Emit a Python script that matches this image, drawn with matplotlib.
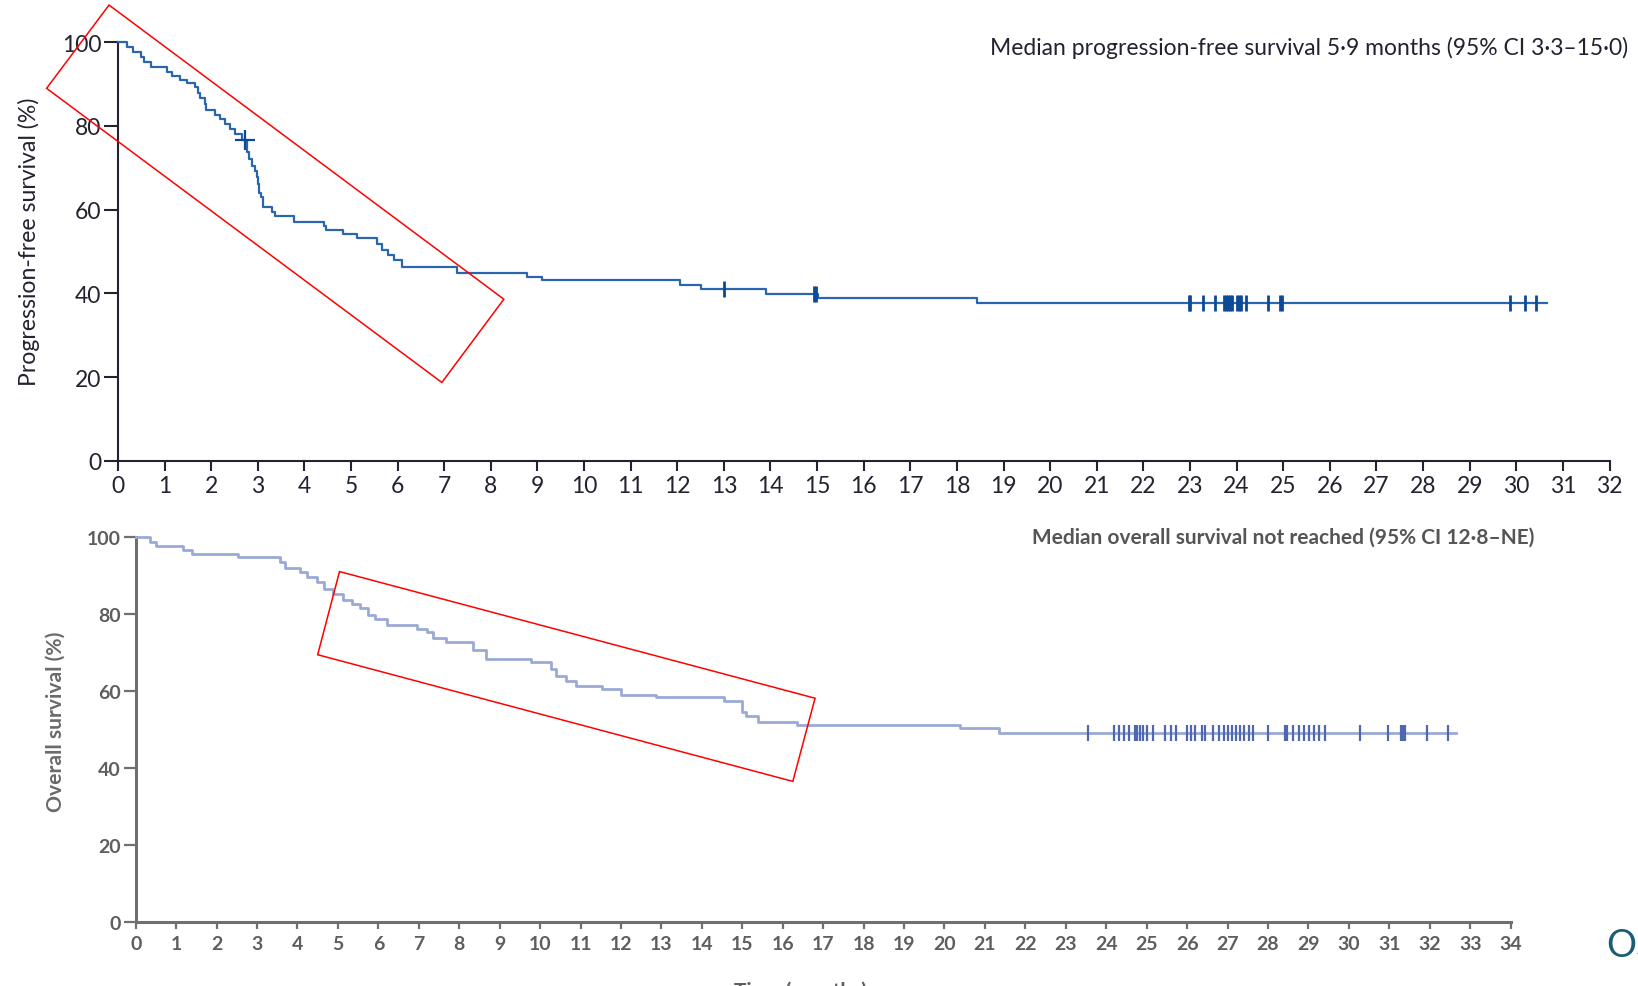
import matplotlib
matplotlib.use("Agg")
import matplotlib.pyplot as plt
from matplotlib.patches import Polygon
import numpy as np

# ---------------- data ----------------
pfs_times = [0, 0.19, 0.33, 0.50, 0.56, 0.70, 1.05, 1.15, 1.33, 1.48, 1.66, 1.71, 1.76,
             1.87, 1.89, 2.08, 2.19, 2.30, 2.41, 2.51, 2.66, 2.76, 2.82, 2.87, 2.94,
             2.98, 3.00, 3.03, 3.08, 3.12, 3.30, 3.37, 3.77, 4.42, 4.47, 4.82, 5.12,
             5.55, 5.66, 5.80, 5.93, 6.10, 7.27, 8.77, 9.09, 12.05, 12.51, 13.91,
             15.03, 18.44]
pfs_surv = [100, 98.8, 97.6, 96.4, 95.2, 94.0, 92.9, 91.9, 91.0, 90.2, 89.2, 88.0, 86.6,
            85.2, 83.7, 82.6, 81.6, 80.4, 79.3, 78.1, 76.7, 73.7, 72.1, 70.5, 69.3,
            67.7, 66.1, 64.1, 63.0, 60.6, 59.4, 58.4, 57.1, 56.2, 55.2, 54.2, 53.2,
            51.8, 50.4, 49.2, 48.0, 46.2, 44.9, 44.0, 43.2, 42.0, 41.0, 39.8,
            38.8, 37.6]
pfs_end = 30.66
pfs_censor_cross = [2.73]
pfs_censor = [13.01, 14.94, 14.97, 22.97, 23.0, 23.27, 23.54, 23.74, 23.78,
              23.82, 23.86, 23.90, 24.0, 24.05, 24.10, 24.21, 24.67, 24.93, 24.97,
              29.87, 30.18, 30.43]

os_times = [0, 0.35, 0.50, 1.18, 1.38, 2.54, 3.57, 3.68, 4.06, 4.23, 4.48, 4.66, 4.89,
            5.13, 5.34, 5.55, 5.75, 5.92, 6.21, 6.95, 7.20, 7.36, 7.67, 8.33, 8.66,
            9.77, 10.26, 10.40, 10.64, 10.88, 11.54, 12.00, 12.86, 14.55, 15.00,
            15.10, 15.38, 16.36, 20.38, 21.35]
os_surv = [100, 98.9, 97.8, 96.8, 95.7, 94.8, 93.5, 91.9, 90.9, 89.6, 88.5, 86.6, 85.3,
           83.8, 82.7, 81.6, 79.8, 78.8, 77.2, 76.2, 75.3, 73.8, 72.7, 70.6, 68.4,
           67.5, 65.8, 64.1, 62.8, 61.5, 60.6, 59.0, 58.4, 57.6, 54.5,
           53.5, 52.1, 51.2, 50.4, 49.1]
os_end = 32.64
os_censor = [23.54, 24.19, 24.31, 24.44, 24.57, 24.72, 24.77, 24.84, 24.91, 25.01,
             25.15, 25.45, 25.60, 25.72, 26.00, 26.10, 26.20, 26.38, 26.45, 26.65,
             26.79, 26.91, 27.02, 27.11, 27.21, 27.31, 27.41, 27.53, 27.63, 27.99,
             28.41, 28.47, 28.62, 28.77, 28.90, 29.02, 29.14, 29.27, 29.40, 30.27,
             30.98, 31.28, 31.33, 31.38, 31.94, 32.44]

y_ticks = [0, 20, 40, 60, 80, 100]
pfs_xticks = list(range(0, 33))
os_xticks = list(range(0, 35))

pfs_ylabel = "Progression-free survival (%)"
os_ylabel = "Overall survival (%)"
pfs_note = "Median progression-free survival 5\u00b79 months (95% CI 3\u00b73\u201315\u00b70)"
os_note = "Median overall survival not reached (95% CI 12\u00b78\u2013NE)"
x_label = "Time (months)"

# highlight boxes (data coordinates of each panel)
pfs_box = [(-0.19, 108.9), (8.28, 38.6), (6.95, 18.7), (-1.53, 89.0)]
os_box = [(5.04, 91.1), (16.80, 58.2), (16.25, 36.6), (4.50, 69.5)]

# ---------------- figure ----------------
W, H = 1638, 987
fig = plt.figure(figsize=(W / 100, H / 100), dpi=100)
plt.rcParams["font.family"] = ["Lato", "DejaVu Sans"]


def px_axes(l, t, r, b):
    return [l / W, (H - b) / H, (r - l) / W, (b - t) / H]


ax1 = fig.add_axes(px_axes(117.9, 43.3, 1609.5, 461.7))
ax2 = fig.add_axes(px_axes(135.7, 538.3, 1510.6, 923.3))


def level_at(times, surv, t):
    i = np.searchsorted(times, t, side="right") - 1
    return np.asarray(surv)[i]


# ---- top panel: PFS ----
top_dark = "#222230"
pfs_col = "#2a66ad"
cens_col = "#0c4a95"
ax1.step(pfs_times + [pfs_end], pfs_surv + [pfs_surv[-1]], where="post",
         color=pfs_col, lw=1.6, clip_on=False, zorder=3)
ax1.plot(pfs_censor, level_at(pfs_times, pfs_surv, pfs_censor), ls="none",
         marker="|", ms=12, mew=2.0, color=cens_col, clip_on=False, zorder=4)
ax1.plot(pfs_censor_cross, level_at(pfs_times, pfs_surv, pfs_censor_cross), ls="none",
         marker="+", ms=15, mew=1.6, color=cens_col, clip_on=False, zorder=4)
ax1.set_xlim(0, 32)
ax1.set_ylim(0, 100)
ax1.set_xticks(pfs_xticks)
ax1.set_yticks(y_ticks)
for s in ("top", "right"):
    ax1.spines[s].set_visible(False)
for s in ("left", "bottom"):
    ax1.spines[s].set_color(top_dark)
    ax1.spines[s].set_linewidth(1.5)
ax1.tick_params(axis="x", length=7, width=1.5, color=top_dark, labelsize=16.5,
                labelcolor=top_dark, pad=3)
ax1.tick_params(axis="y", length=10, width=1.5, color=top_dark, labelsize=16.5,
                labelcolor=top_dark, pad=2)
ax1.add_patch(Polygon(pfs_box, closed=True, fill=False, ec="#ff0000", lw=1.1,
                      clip_on=False, zorder=5))

# ---- bottom panel: OS ----
grey = "#6f6f6f"
os_col = "#9aa9d6"
ax2.step(os_times + [os_end], os_surv + [os_surv[-1]], where="post",
         color=os_col, lw=2.0, clip_on=False, zorder=3)
ax2.plot(os_censor, level_at(os_times, os_surv, os_censor), ls="none",
         marker="|", ms=11, mew=1.6, color="#4f67b0", clip_on=False, zorder=4)
ax2.set_xlim(0, 34)
ax2.set_ylim(0, 100)
ax2.set_xticks(os_xticks)
ax2.set_yticks(y_ticks)
for s in ("top", "right"):
    ax2.spines[s].set_visible(False)
for s in ("left", "bottom"):
    ax2.spines[s].set_color(grey)
    ax2.spines[s].set_linewidth(2.2)
ax2.tick_params(axis="x", length=5, width=1.6, color=grey, labelsize=14,
                labelcolor="#5e5e5e", pad=4)
ax2.tick_params(axis="y", length=9, width=1.6, color=grey, labelsize=14,
                labelcolor="#5e5e5e", pad=2)
for lab in ax2.get_xticklabels() + ax2.get_yticklabels():
    lab.set_fontweight("bold")
ax2.add_patch(Polygon(os_box, closed=True, fill=False, ec="#ff0000", lw=1.1,
                      clip_on=False, zorder=5))

# ---- texts ----
t_pfs_note = fig.text(1628.6 / W, (H - 48.3) / H, pfs_note, ha="right", va="center",
                      fontsize=17, color=top_dark)
t_os_note = fig.text(1032.5 / W, (H - 538) / H, os_note, ha="left", va="center",
                     fontsize=13, color="#555555", fontweight="bold")
t_pfs_y = fig.text(28.6 / W, (H - 242) / H, pfs_ylabel, rotation=90, ha="center",
                   va="center", fontsize=16, color=top_dark)
t_os_y = fig.text(55.4 / W, (H - 721.7) / H, os_ylabel, rotation=90, ha="center",
                  va="center", fontsize=12, color="#6a6a6a", fontweight="bold")
fig.text(800 / W, 5 / H, x_label, ha="center", va="top", fontsize=15,
         color="#5e5e5e", fontweight="bold")
fig.text(1606 / W, 30 / H, "OS", ha="left", va="baseline", fontsize=27,
         color="#1b5d72")

fig.canvas.draw()
renderer = fig.canvas.get_renderer()


def fit(txt, target):
    bb = txt.get_window_extent(renderer)
    length = max(bb.width, bb.height)
    txt.set_fontsize(txt.get_fontsize() * target / length)


fit(t_pfs_note, 640)
fit(t_os_note, 500)
fit(t_pfs_y, 290)
fit(t_os_y, 180)

fig.savefig("out.png", dpi=100, facecolor="white")
